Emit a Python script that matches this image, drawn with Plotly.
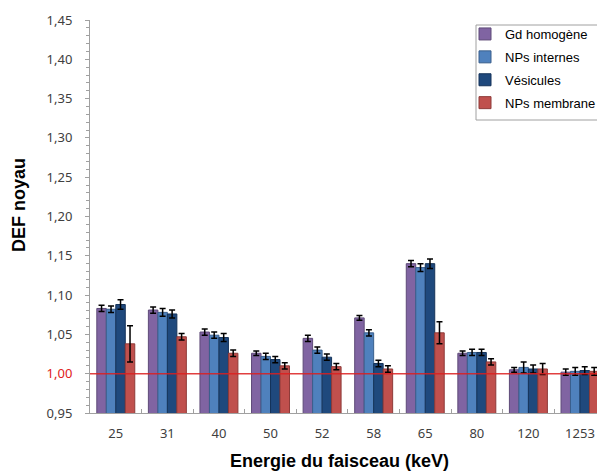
import plotly.graph_objects as go

energies = ["25", "31", "40", "50", "52", "58", "65", "80", "120", "1253"]
series_names = ["Gd homogène", "NPs internes", "Vésicules", "NPs membrane"]
gd_homogene = [1.083, 1.081, 1.053, 1.026, 1.045, 1.071, 1.140, 1.026, 1.005, 1.002]
nps_internes = [1.082, 1.078, 1.049, 1.022, 1.030, 1.052, 1.135, 1.027, 1.008, 1.003]
vesicules = [1.088, 1.076, 1.046, 1.018, 1.021, 1.013, 1.140, 1.027, 1.006, 1.004]
nps_membrane = [1.038, 1.047, 1.026, 1.010, 1.009, 1.006, 1.052, 1.015, 1.006, 1.003]
err_gd = [0.004, 0.004, 0.004, 0.003, 0.004, 0.003, 0.004, 0.003, 0.003, 0.004]
err_int = [0.004, 0.005, 0.004, 0.004, 0.004, 0.004, 0.005, 0.004, 0.007, 0.005]
err_ves = [0.006, 0.005, 0.005, 0.004, 0.004, 0.004, 0.006, 0.004, 0.005, 0.005]
err_mem = [0.023, 0.004, 0.004, 0.004, 0.004, 0.004, 0.014, 0.004, 0.007, 0.005]

colors = ["#8064A2", "#4F81BD", "#1F497D", "#C0504D"]
outlines = ["#5E4A78", "#3A5F8C", "#15335A", "#8E3B39"]
values = [gd_homogene, nps_internes, vesicules, nps_membrane]
errors = [err_gd, err_int, err_ves, err_mem]

y_ticks = [0.95, 1.00, 1.05, 1.10, 1.15, 1.20, 1.25, 1.30, 1.35, 1.40, 1.45]
y_ticktext = ["0,95", "<span style='color:#E02020'>1,00</span>", "1,05", "1,10", "1,15",
              "1,20", "1,25", "1,30", "1,35", "1,40", "1,45"]

fig = go.Figure()
for i in range(4):
    fig.add_trace(go.Bar(
        x=energies, y=values[i], name=series_names[i],
        marker=dict(color=colors[i], line=dict(color=outlines[i], width=1)),
        error_y=dict(type="data", array=errors[i], color="black", thickness=1.5, width=3),
        legendgroup=f"g{i}",
    ))

# reference line at DEF = 1
fig.add_shape(type="line", xref="paper", yref="y", x0=0, x1=1, y0=1.0, y1=1.0,
              line=dict(color="rgba(220,30,30,0.85)", width=1.6), layer="above")

# legend frame
fig.add_shape(type="rect", xref="paper", yref="paper",
              x0=(476 - 90) / 507, x1=1.2, y0=(413 - 120) / 393, y1=(413 - 25) / 393,
              line=dict(color="#A0A0A0", width=1), fillcolor="white", layer="above")

fig.add_annotation(text="<b>DEF noyau</b>", xref="paper", yref="paper",
                   x=(19 - 90) / 507, y=(413 - 205) / 393, xanchor="center", yanchor="middle",
                   textangle=-90, showarrow=False,
                   font=dict(size=18, color="#000000", family="Liberation Sans, Arial, sans-serif"))
fig.add_annotation(text="<b>Energie du faisceau (keV)</b>", xref="paper", yref="paper",
                   x=(339 - 90) / 507, y=-(461 - 413) / 393, xanchor="center", yanchor="middle",
                   showarrow=False,
                   font=dict(size=18, color="#000000", family="Liberation Sans, Arial, sans-serif"))

fig.update_layout(
    width=597, height=471, autosize=False,
    margin=dict(l=90, r=0, t=20, b=58, autoexpand=False),
    paper_bgcolor="white", plot_bgcolor="white",
    barmode="group", bargap=0.264, bargroupgap=0,
    font=dict(family="Liberation Sans, Arial, sans-serif", color="#404040"),
    legend=dict(
        x=(465 - 90) / 507, y=(413 - 19) / 393, xanchor="left", yanchor="top",
        bgcolor="rgba(0,0,0,0)", borderwidth=0,
        font=dict(size=13, color="#000000", family="Liberation Sans, Arial, sans-serif"),
        tracegroupgap=3,
    ),
    xaxis=dict(
        type="category", range=[-0.5, 9.33],
        showline=True, linecolor="#A0A0A0", linewidth=1,
        ticks="inside", tickson="boundaries", ticklen=4, tickcolor="#A0A0A0",
        ticklabelstandoff=8,
        tickfont=dict(size=13, color="#404040", family="Noto Sans, sans-serif"),
        showgrid=False,
    ),
    yaxis=dict(
        range=[0.95, 1.45], tickvals=y_ticks, ticktext=y_ticktext,
        showline=True, linecolor="#A0A0A0", linewidth=1,
        ticks="outside", ticklen=4, tickcolor="#A0A0A0",
        ticklabelstandoff=10,
        minor=dict(dtick=0.01, ticks="outside", ticklen=3, tickcolor="#A0A0A0", showgrid=False),
        showgrid=False, zeroline=False,
        tickfont=dict(size=13, color="#404040", family="Noto Sans, sans-serif"),
    ),
)

fig.write_html(
    "out.html",
    config={"displayModeBar": False},
    post_script="document.body.style.margin='0';document.body.style.overflow='hidden';",
)
